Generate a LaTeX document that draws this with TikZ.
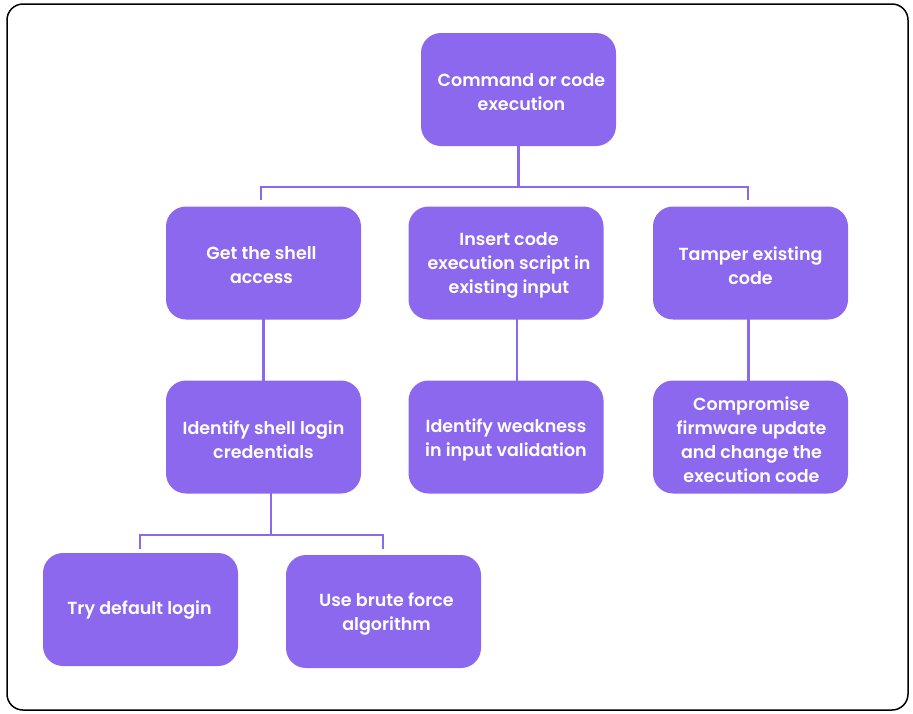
\documentclass[tikz,border=0pt]{standalone}
\usepackage{fontspec}
\setmainfont{Poppins}[BoldFont={Poppins SemiBold}]
\definecolor{boxc}{HTML}{8B68EE}
\begin{document}
\begin{tikzpicture}[x=1pt,y=-1pt,
  box/.style={draw=none,fill=boxc,rounded corners=20pt,minimum width=195pt,minimum height=113pt,inner sep=0pt},
  txt/.style={text=white,font=\fontsize{17.5}{24}\selectfont\bfseries,align=center,inner sep=0pt},
  link/.style={draw=boxc,line width=2.4pt}]
\useasboundingbox (0,0) rectangle (913,713);
\draw[line width=1.5pt,rounded corners=16pt] (7,4) rectangle (908,710);
\node[box] (top) at (518.5,89.5) {};
\node[box] (shell) at (263.5,263) {};
\node[box] (insert) at (506,263) {};
\node[box] (tamper) at (750.5,263) {};
\node[box] (creds) at (263.5,437) {};
\node[box] (weak) at (506,437) {};
\node[box] (comp) at (750.5,437) {};
\node[box] (def) at (140.5,609.5) {};
\node[box] (brute) at (383.5,611.5) {};
\node[txt] (topt) at ([xshift=3pt,yshift=-2.5pt]top.center) {Command or code\\execution};
\node[txt] (shellt) at ([xshift=-2pt,yshift=-2.5pt]shell.center) {Get the shell\\access};
\node[txt] (insertt) at ([xshift=3pt,yshift=-2.5pt]insert.center) {Insert code\\execution script in\\existing input};
\node[txt] (tampert) at ([yshift=-2.5pt]tamper.center) {Tamper existing\\code};
\node[txt] (credst) at ([yshift=-2.5pt]creds.center) {Identify shell login\\credentials};
\node[txt] (weakt) at ([yshift=-2.5pt]weak.center) {Identify weakness\\in input validation};
\node[txt] (compt) at ([xshift=1pt,yshift=-2.5pt]comp.center) {Compromise\\firmware update\\and change the\\execution code};
\node[txt] (deft) at ([xshift=-1pt,yshift=-1pt]def.center) {Try default login};
\node[txt] (brutet) at ([xshift=3pt,yshift=-2.5pt]brute.center) {Use brute force\\algorithm};
\coordinate (b1) at (518.5,187);
\draw[link] ([yshift=2pt]top.south) -- (b1);
\draw[link] (261,200) -- (261,187) -- (748,187) -- (748,200);
\draw[link] ([yshift=4pt]shell.south) -- ([yshift=-4pt]creds.north);
\draw[link] ([xshift=11pt,yshift=4pt]insert.south) -- ([xshift=11pt,yshift=-4pt]weak.north);
\draw[link] ([xshift=-2pt,yshift=4pt]tamper.south) -- ([xshift=-2pt,yshift=-4pt]comp.north);
\draw[link] ([xshift=7.5pt,yshift=4pt]creds.south) -- (271,535);
\draw[link] (140,549) -- (140,535) -- (383,535) -- (383,549);
\end{tikzpicture}
\end{document}
